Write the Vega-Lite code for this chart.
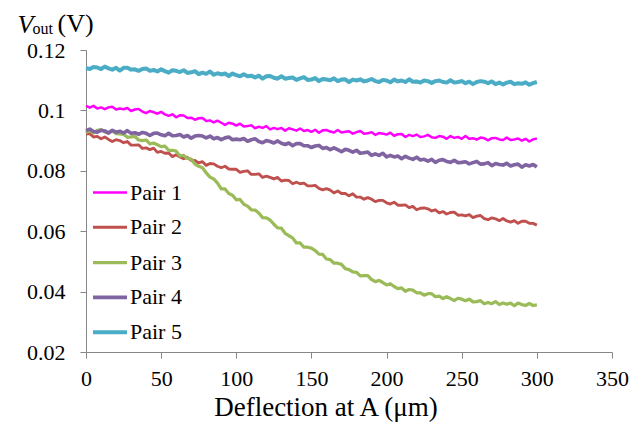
{
"$schema": "https://vega.github.io/schema/vega-lite/v6.json",
"width": 526, "height": 302,
"autosize": {"type": "none"},
"padding": {"left": 86, "top": 50, "right": 32, "bottom": 73},
"background": "white",
"config": {"view": {"stroke": null}, "font": "Liberation Serif",
  "axis": {"grid": false, "labelFont": "Liberation Serif", "titleFont": "Liberation Serif", "titleFontWeight": "normal", "labelColor": "black", "titleColor": "black", "domainColor": "#868686", "tickColor": "#868686"},
  "legend": {"labelFont": "Liberation Serif"}},
"data": {"values": [
{"x":0,"Pair 1":0.1015,"Pair 2":0.0922,"Pair 3":0.0926,"Pair 4":0.0933,"Pair 5":0.1140},
{"x":2.5,"Pair 1":0.1009,"Pair 2":0.0923,"Pair 3":0.0934,"Pair 4":0.0938,"Pair 5":0.1137},
{"x":5,"Pair 1":0.1015,"Pair 2":0.0912,"Pair 3":0.0925,"Pair 4":0.0930,"Pair 5":0.1144},
{"x":7.5,"Pair 1":0.1006,"Pair 2":0.0914,"Pair 3":0.0934,"Pair 4":0.0928,"Pair 5":0.1142},
{"x":10,"Pair 1":0.1010,"Pair 2":0.0906,"Pair 3":0.0936,"Pair 4":0.0934,"Pair 5":0.1137},
{"x":12.5,"Pair 1":0.1004,"Pair 2":0.0912,"Pair 3":0.0929,"Pair 4":0.0932,"Pair 5":0.1145},
{"x":15,"Pair 1":0.1010,"Pair 2":0.0904,"Pair 3":0.0926,"Pair 4":0.0925,"Pair 5":0.1139},
{"x":17.5,"Pair 1":0.1012,"Pair 2":0.0897,"Pair 3":0.0932,"Pair 4":0.0934,"Pair 5":0.1135},
{"x":20,"Pair 1":0.1003,"Pair 2":0.0903,"Pair 3":0.0923,"Pair 4":0.0928,"Pair 5":0.1141},
{"x":22.5,"Pair 1":0.1006,"Pair 2":0.0900,"Pair 3":0.0922,"Pair 4":0.0931,"Pair 5":0.1132},
{"x":25,"Pair 1":0.1004,"Pair 2":0.0893,"Pair 3":0.0921,"Pair 4":0.0925,"Pair 5":0.1141},
{"x":27.5,"Pair 1":0.1008,"Pair 2":0.0897,"Pair 3":0.0911,"Pair 4":0.0933,"Pair 5":0.1141},
{"x":30,"Pair 1":0.0998,"Pair 2":0.0885,"Pair 3":0.0912,"Pair 4":0.0924,"Pair 5":0.1135},
{"x":32.5,"Pair 1":0.1003,"Pair 2":0.0885,"Pair 3":0.0914,"Pair 4":0.0926,"Pair 5":0.1136},
{"x":35,"Pair 1":0.1005,"Pair 2":0.0886,"Pair 3":0.0902,"Pair 4":0.0921,"Pair 5":0.1131},
{"x":37.5,"Pair 1":0.0996,"Pair 2":0.0874,"Pair 3":0.0900,"Pair 4":0.0927,"Pair 5":0.1137},
{"x":40,"Pair 1":0.0991,"Pair 2":0.0876,"Pair 3":0.0902,"Pair 4":0.0924,"Pair 5":0.1139},
{"x":42.5,"Pair 1":0.0998,"Pair 2":0.0870,"Pair 3":0.0889,"Pair 4":0.0917,"Pair 5":0.1131},
{"x":45,"Pair 1":0.0994,"Pair 2":0.0875,"Pair 3":0.0892,"Pair 4":0.0924,"Pair 5":0.1134},
{"x":47.5,"Pair 1":0.0989,"Pair 2":0.0861,"Pair 3":0.0886,"Pair 4":0.0925,"Pair 5":0.1129},
{"x":50,"Pair 1":0.0995,"Pair 2":0.0864,"Pair 3":0.0880,"Pair 4":0.0919,"Pair 5":0.1136},
{"x":52.5,"Pair 1":0.0987,"Pair 2":0.0858,"Pair 3":0.0882,"Pair 4":0.0916,"Pair 5":0.1130},
{"x":55,"Pair 1":0.0982,"Pair 2":0.0859,"Pair 3":0.0868,"Pair 4":0.0924,"Pair 5":0.1125},
{"x":57.5,"Pair 1":0.0987,"Pair 2":0.0847,"Pair 3":0.0868,"Pair 4":0.0916,"Pair 5":0.1133},
{"x":60,"Pair 1":0.0977,"Pair 2":0.0853,"Pair 3":0.0865,"Pair 4":0.0917,"Pair 5":0.1131},
{"x":62.5,"Pair 1":0.0984,"Pair 2":0.0846,"Pair 3":0.0849,"Pair 4":0.0920,"Pair 5":0.1127},
{"x":65,"Pair 1":0.0983,"Pair 2":0.0840,"Pair 3":0.0851,"Pair 4":0.0912,"Pair 5":0.1133},
{"x":67.5,"Pair 1":0.0975,"Pair 2":0.0845,"Pair 3":0.0841,"Pair 4":0.0917,"Pair 5":0.1124},
{"x":70,"Pair 1":0.0976,"Pair 2":0.0834,"Pair 3":0.0839,"Pair 4":0.0908,"Pair 5":0.1126},
{"x":72.5,"Pair 1":0.0969,"Pair 2":0.0834,"Pair 3":0.0822,"Pair 4":0.0915,"Pair 5":0.1130},
{"x":75,"Pair 1":0.0974,"Pair 2":0.0826,"Pair 3":0.0815,"Pair 4":0.0917,"Pair 5":0.1120},
{"x":77.5,"Pair 1":0.0975,"Pair 2":0.0830,"Pair 3":0.0810,"Pair 4":0.0915,"Pair 5":0.1125},
{"x":80,"Pair 1":0.0965,"Pair 2":0.0818,"Pair 3":0.0793,"Pair 4":0.0909,"Pair 5":0.1121},
{"x":82.5,"Pair 1":0.0967,"Pair 2":0.0824,"Pair 3":0.0779,"Pair 4":0.0915,"Pair 5":0.1129},
{"x":85,"Pair 1":0.0960,"Pair 2":0.0823,"Pair 3":0.0773,"Pair 4":0.0906,"Pair 5":0.1118},
{"x":87.5,"Pair 1":0.0966,"Pair 2":0.0815,"Pair 3":0.0759,"Pair 4":0.0910,"Pair 5":0.1123},
{"x":90,"Pair 1":0.0959,"Pair 2":0.0810,"Pair 3":0.0740,"Pair 4":0.0903,"Pair 5":0.1119},
{"x":92.5,"Pair 1":0.0952,"Pair 2":0.0815,"Pair 3":0.0740,"Pair 4":0.0909,"Pair 5":0.1122},
{"x":95,"Pair 1":0.0959,"Pair 2":0.0806,"Pair 3":0.0725,"Pair 4":0.0912,"Pair 5":0.1114},
{"x":97.5,"Pair 1":0.0956,"Pair 2":0.0805,"Pair 3":0.0719,"Pair 4":0.0903,"Pair 5":0.1122},
{"x":100,"Pair 1":0.0950,"Pair 2":0.0805,"Pair 3":0.0704,"Pair 4":0.0905,"Pair 5":0.1117},
{"x":102.5,"Pair 1":0.0956,"Pair 2":0.0795,"Pair 3":0.0705,"Pair 4":0.0903,"Pair 5":0.1113},
{"x":105,"Pair 1":0.0947,"Pair 2":0.0798,"Pair 3":0.0689,"Pair 4":0.0907,"Pair 5":0.1120},
{"x":107.5,"Pair 1":0.0948,"Pair 2":0.0800,"Pair 3":0.0683,"Pair 4":0.0898,"Pair 5":0.1113},
{"x":110,"Pair 1":0.0951,"Pair 2":0.0788,"Pair 3":0.0671,"Pair 4":0.0903,"Pair 5":0.1115},
{"x":112.5,"Pair 1":0.0941,"Pair 2":0.0788,"Pair 3":0.0670,"Pair 4":0.0906,"Pair 5":0.1109},
{"x":115,"Pair 1":0.0946,"Pair 2":0.0790,"Pair 3":0.0660,"Pair 4":0.0897,"Pair 5":0.1115},
{"x":117.5,"Pair 1":0.0942,"Pair 2":0.0778,"Pair 3":0.0645,"Pair 4":0.0893,"Pair 5":0.1105},
{"x":120,"Pair 1":0.0948,"Pair 2":0.0782,"Pair 3":0.0644,"Pair 4":0.0900,"Pair 5":0.1113},
{"x":122.5,"Pair 1":0.0937,"Pair 2":0.0778,"Pair 3":0.0637,"Pair 4":0.0897,"Pair 5":0.1114},
{"x":125,"Pair 1":0.0942,"Pair 2":0.0773,"Pair 3":0.0623,"Pair 4":0.0892,"Pair 5":0.1108},
{"x":127.5,"Pair 1":0.0938,"Pair 2":0.0778,"Pair 3":0.0611,"Pair 4":0.0899,"Pair 5":0.1105},
{"x":130,"Pair 1":0.0942,"Pair 2":0.0766,"Pair 3":0.0610,"Pair 4":0.0891,"Pair 5":0.1113},
{"x":132.5,"Pair 1":0.0933,"Pair 2":0.0769,"Pair 3":0.0593,"Pair 4":0.0887,"Pair 5":0.1105},
{"x":135,"Pair 1":0.0941,"Pair 2":0.0768,"Pair 3":0.0585,"Pair 4":0.0892,"Pair 5":0.1107},
{"x":137.5,"Pair 1":0.0937,"Pair 2":0.0757,"Pair 3":0.0578,"Pair 4":0.0883,"Pair 5":0.1109},
{"x":140,"Pair 1":0.0933,"Pair 2":0.0762,"Pair 3":0.0561,"Pair 4":0.0890,"Pair 5":0.1101},
{"x":142.5,"Pair 1":0.0940,"Pair 2":0.0757,"Pair 3":0.0561,"Pair 4":0.0890,"Pair 5":0.1106},
{"x":145,"Pair 1":0.0932,"Pair 2":0.0759,"Pair 3":0.0547,"Pair 4":0.0883,"Pair 5":0.1110},
{"x":147.5,"Pair 1":0.0935,"Pair 2":0.0750,"Pair 3":0.0547,"Pair 4":0.0883,"Pair 5":0.1101},
{"x":150,"Pair 1":0.0929,"Pair 2":0.0750,"Pair 3":0.0544,"Pair 4":0.0877,"Pair 5":0.1102},
{"x":152.5,"Pair 1":0.0936,"Pair 2":0.0752,"Pair 3":0.0536,"Pair 4":0.0882,"Pair 5":0.1107},
{"x":155,"Pair 1":0.0926,"Pair 2":0.0742,"Pair 3":0.0524,"Pair 4":0.0884,"Pair 5":0.1097},
{"x":157.5,"Pair 1":0.0934,"Pair 2":0.0737,"Pair 3":0.0523,"Pair 4":0.0874,"Pair 5":0.1104},
{"x":160,"Pair 1":0.0935,"Pair 2":0.0741,"Pair 3":0.0508,"Pair 4":0.0877,"Pair 5":0.1102},
{"x":162.5,"Pair 1":0.0930,"Pair 2":0.0736,"Pair 3":0.0506,"Pair 4":0.0870,"Pair 5":0.1100},
{"x":165,"Pair 1":0.0927,"Pair 2":0.0727,"Pair 3":0.0494,"Pair 4":0.0876,"Pair 5":0.1106},
{"x":167.5,"Pair 1":0.0935,"Pair 2":0.0733,"Pair 3":0.0494,"Pair 4":0.0870,"Pair 5":0.1097},
{"x":170,"Pair 1":0.0927,"Pair 2":0.0725,"Pair 3":0.0490,"Pair 4":0.0863,"Pair 5":0.1102},
{"x":172.5,"Pair 1":0.0929,"Pair 2":0.0725,"Pair 3":0.0476,"Pair 4":0.0871,"Pair 5":0.1103},
{"x":175,"Pair 1":0.0931,"Pair 2":0.0717,"Pair 3":0.0473,"Pair 4":0.0868,"Pair 5":0.1094},
{"x":177.5,"Pair 1":0.0923,"Pair 2":0.0724,"Pair 3":0.0465,"Pair 4":0.0862,"Pair 5":0.1102},
{"x":180,"Pair 1":0.0928,"Pair 2":0.0713,"Pair 3":0.0464,"Pair 4":0.0868,"Pair 5":0.1099},
{"x":182.5,"Pair 1":0.0932,"Pair 2":0.0713,"Pair 3":0.0452,"Pair 4":0.0858,"Pair 5":0.1103},
{"x":185,"Pair 1":0.0923,"Pair 2":0.0706,"Pair 3":0.0453,"Pair 4":0.0860,"Pair 5":0.1096},
{"x":187.5,"Pair 1":0.0924,"Pair 2":0.0711,"Pair 3":0.0453,"Pair 4":0.0862,"Pair 5":0.1099},
{"x":190,"Pair 1":0.0928,"Pair 2":0.0706,"Pair 3":0.0440,"Pair 4":0.0851,"Pair 5":0.1104},
{"x":192.5,"Pair 1":0.0919,"Pair 2":0.0698,"Pair 3":0.0433,"Pair 4":0.0856,"Pair 5":0.1097},
{"x":195,"Pair 1":0.0925,"Pair 2":0.0702,"Pair 3":0.0437,"Pair 4":0.0851,"Pair 5":0.1094},
{"x":197.5,"Pair 1":0.0923,"Pair 2":0.0702,"Pair 3":0.0430,"Pair 4":0.0858,"Pair 5":0.1101},
{"x":200,"Pair 1":0.0920,"Pair 2":0.0694,"Pair 3":0.0422,"Pair 4":0.0846,"Pair 5":0.1099},
{"x":202.5,"Pair 1":0.0926,"Pair 2":0.0690,"Pair 3":0.0426,"Pair 4":0.0851,"Pair 5":0.1093},
{"x":205,"Pair 1":0.0916,"Pair 2":0.0696,"Pair 3":0.0417,"Pair 4":0.0846,"Pair 5":0.1102},
{"x":207.5,"Pair 1":0.0921,"Pair 2":0.0686,"Pair 3":0.0410,"Pair 4":0.0849,"Pair 5":0.1096},
{"x":210,"Pair 1":0.0922,"Pair 2":0.0686,"Pair 3":0.0412,"Pair 4":0.0840,"Pair 5":0.1099},
{"x":212.5,"Pair 1":0.0912,"Pair 2":0.0687,"Pair 3":0.0401,"Pair 4":0.0848,"Pair 5":0.1094},
{"x":215,"Pair 1":0.0919,"Pair 2":0.0678,"Pair 3":0.0407,"Pair 4":0.0842,"Pair 5":0.1103},
{"x":217.5,"Pair 1":0.0915,"Pair 2":0.0682,"Pair 3":0.0405,"Pair 4":0.0838,"Pair 5":0.1095},
{"x":220,"Pair 1":0.0920,"Pair 2":0.0671,"Pair 3":0.0396,"Pair 4":0.0845,"Pair 5":0.1096},
{"x":222.5,"Pair 1":0.0912,"Pair 2":0.0676,"Pair 3":0.0396,"Pair 4":0.0836,"Pair 5":0.1092},
{"x":225,"Pair 1":0.0914,"Pair 2":0.0677,"Pair 3":0.0388,"Pair 4":0.0838,"Pair 5":0.1099},
{"x":227.5,"Pair 1":0.0919,"Pair 2":0.0674,"Pair 3":0.0393,"Pair 4":0.0832,"Pair 5":0.1097},
{"x":230,"Pair 1":0.0911,"Pair 2":0.0667,"Pair 3":0.0393,"Pair 4":0.0838,"Pair 5":0.1091},
{"x":232.5,"Pair 1":0.0909,"Pair 2":0.0671,"Pair 3":0.0383,"Pair 4":0.0828,"Pair 5":0.1097},
{"x":235,"Pair 1":0.0915,"Pair 2":0.0661,"Pair 3":0.0385,"Pair 4":0.0835,"Pair 5":0.1099},
{"x":237.5,"Pair 1":0.0913,"Pair 2":0.0665,"Pair 3":0.0377,"Pair 4":0.0837,"Pair 5":0.1094},
{"x":240,"Pair 1":0.0906,"Pair 2":0.0657,"Pair 3":0.0383,"Pair 4":0.0831,"Pair 5":0.1092},
{"x":242.5,"Pair 1":0.0915,"Pair 2":0.0662,"Pair 3":0.0377,"Pair 4":0.0828,"Pair 5":0.1100},
{"x":245,"Pair 1":0.0909,"Pair 2":0.0663,"Pair 3":0.0370,"Pair 4":0.0835,"Pair 5":0.1092},
{"x":247.5,"Pair 1":0.0912,"Pair 2":0.0653,"Pair 3":0.0378,"Pair 4":0.0827,"Pair 5":0.1094},
{"x":250,"Pair 1":0.0906,"Pair 2":0.0654,"Pair 3":0.0375,"Pair 4":0.0828,"Pair 5":0.1097},
{"x":252.5,"Pair 1":0.0915,"Pair 2":0.0651,"Pair 3":0.0370,"Pair 4":0.0830,"Pair 5":0.1090},
{"x":255,"Pair 1":0.0906,"Pair 2":0.0655,"Pair 3":0.0375,"Pair 4":0.0823,"Pair 5":0.1095},
{"x":257.5,"Pair 1":0.0908,"Pair 2":0.0645,"Pair 3":0.0366,"Pair 4":0.0827,"Pair 5":0.1087},
{"x":260,"Pair 1":0.0903,"Pair 2":0.0650,"Pair 3":0.0367,"Pair 4":0.0831,"Pair 5":0.1094},
{"x":262.5,"Pair 1":0.0910,"Pair 2":0.0652,"Pair 3":0.0370,"Pair 4":0.0822,"Pair 5":0.1097},
{"x":265,"Pair 1":0.0908,"Pair 2":0.0642,"Pair 3":0.0360,"Pair 4":0.0823,"Pair 5":0.1095},
{"x":267.5,"Pair 1":0.0901,"Pair 2":0.0638,"Pair 3":0.0364,"Pair 4":0.0827,"Pair 5":0.1090},
{"x":270,"Pair 1":0.0908,"Pair 2":0.0644,"Pair 3":0.0360,"Pair 4":0.0817,"Pair 5":0.1096},
{"x":272.5,"Pair 1":0.0909,"Pair 2":0.0641,"Pair 3":0.0367,"Pair 4":0.0824,"Pair 5":0.1087},
{"x":275,"Pair 1":0.0904,"Pair 2":0.0635,"Pair 3":0.0357,"Pair 4":0.0821,"Pair 5":0.1092},
{"x":277.5,"Pair 1":0.0902,"Pair 2":0.0642,"Pair 3":0.0362,"Pair 4":0.0819,"Pair 5":0.1086},
{"x":280,"Pair 1":0.0910,"Pair 2":0.0634,"Pair 3":0.0358,"Pair 4":0.0825,"Pair 5":0.1092},
{"x":282.5,"Pair 1":0.0902,"Pair 2":0.0630,"Pair 3":0.0362,"Pair 4":0.0816,"Pair 5":0.1095},
{"x":285,"Pair 1":0.0904,"Pair 2":0.0635,"Pair 3":0.0353,"Pair 4":0.0820,"Pair 5":0.1087},
{"x":287.5,"Pair 1":0.0907,"Pair 2":0.0626,"Pair 3":0.0362,"Pair 4":0.0822,"Pair 5":0.1090},
{"x":290,"Pair 1":0.0900,"Pair 2":0.0633,"Pair 3":0.0357,"Pair 4":0.0812,"Pair 5":0.1088},
{"x":292.5,"Pair 1":0.0906,"Pair 2":0.0633,"Pair 3":0.0354,"Pair 4":0.0820,"Pair 5":0.1093},
{"x":295,"Pair 1":0.0897,"Pair 2":0.0626,"Pair 3":0.0361,"Pair 4":0.0816,"Pair 5":0.1085},
{"x":297.5,"Pair 1":0.0904,"Pair 2":0.0626,"Pair 3":0.0354,"Pair 4":0.0821,"Pair 5":0.1090},
{"x":300,"Pair 1":0.0907,"Pair 2":0.0620,"Pair 3":0.0356,"Pair 4":0.0813,"Pair 5":0.1094}
]},
"transform": [{"fold": ["Pair 1", "Pair 2", "Pair 3", "Pair 4", "Pair 5"], "as": ["series", "v"]}],
"layer": [
  {
    "mark": {"type": "line", "strokeJoin": "round", "strokeCap": "butt"},
    "encoding": {
      "x": {"field": "x", "type": "quantitative", "scale": {"domain": [0, 350], "nice": false},
        "axis": {"orient": "bottom", "values": [0, 50, 100, 150, 200, 250, 300, 350], "labelFlush": false, "title": "Deflection at A (μm)", "tickSize": 6, "labelFont": "Liberation Serif", "labelFontSize": 22, "labelPadding": 10, "titleFont": "Liberation Serif", "titleFontSize": 27, "titleX": 239.5, "titleY": 63.7, "titleBaseline": "alphabetic", "titleAlign": "center"}},
      "y": {"field": "v", "type": "quantitative", "scale": {"domain": [0.02, 0.12], "nice": false, "zero": false},
        "axis": {"orient": "left", "values": [0.02, 0.04, 0.06, 0.08, 0.1, 0.12], "format": ".2~f", "labelFlush": false, "title": "V", "titleFont": "Liberation Serif", "titleFontStyle": "italic", "titleAngle": 0, "titleX": -69, "titleY": -18, "titleAlign": "left", "titleBaseline": "alphabetic", "titleFontSize": 26, "tickSize": 6, "labelFont": "Liberation Serif", "labelFontSize": 22, "labelPadding": 15}},
      "color": {"field": "series", "type": "nominal",
        "scale": {"domain": ["Pair 1", "Pair 2", "Pair 3", "Pair 4", "Pair 5"], "range": ["#FF00FF", "#C0504D", "#9BBB59", "#8064A2", "#4BACC6"]},
        "legend": {"orient": "none", "legendX": 5, "legendY": 124, "title": null, "symbolType": "stroke", "symbolSize": 1156, "labelFontSize": 22, "labelFont": "Liberation Serif", "labelColor": "black", "labelOffset": 1, "rowPadding": 4.8, "padding": 0}},
      "strokeWidth": {"field": "series", "type": "ordinal",
        "scale": {"domain": ["Pair 1", "Pair 2", "Pair 3", "Pair 4", "Pair 5"], "range": [2.5, 4, 4, 4, 4]},
        "legend": {"orient": "none", "legendX": 5, "legendY": 124, "title": null, "symbolType": "stroke", "symbolSize": 1156, "labelFontSize": 22, "labelFont": "Liberation Serif", "labelColor": "black", "labelOffset": 1, "rowPadding": 4.8, "padding": 0}}
    }
  },
  {
    "mark": {"type": "point", "opacity": 0},
    "encoding": {
      "x": {"field": "x", "type": "quantitative",
        "axis": {"orient": "top", "title": "out", "labels": false, "ticks": false, "domain": false, "titleFont": "Liberation Serif", "titleX": -54, "titleY": -16.7, "titleAlign": "left", "titleBaseline": "alphabetic", "titleFontSize": 16}},
      "y": {"field": "v", "type": "quantitative",
        "axis": {"orient": "right", "title": "(V)", "labels": false, "ticks": false, "domain": false, "titleFont": "Liberation Serif", "titleAngle": 0, "titleX": -555, "titleY": -18.3, "titleAlign": "left", "titleBaseline": "alphabetic", "titleFontSize": 26}}
    }
  }
]
}
